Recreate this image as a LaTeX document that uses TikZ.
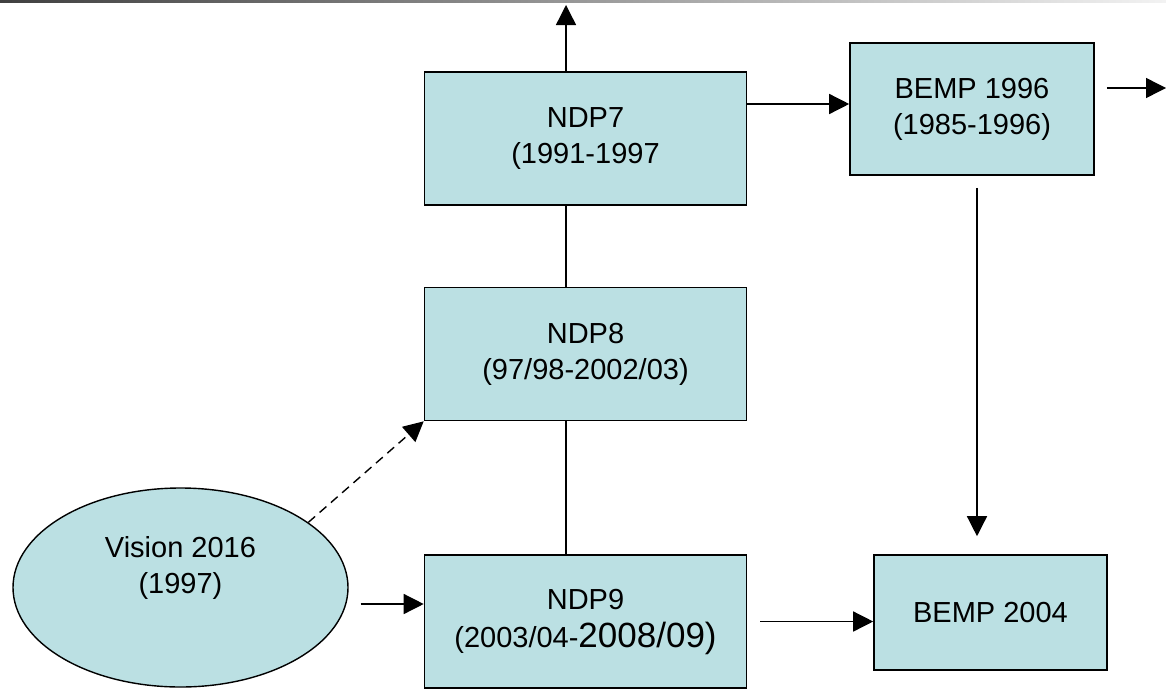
\documentclass[tikz,border=0pt]{standalone}
\usepackage{fontspec}
\setmainfont{Liberation Sans}
\usetikzlibrary{arrows.meta,shapes.geometric,calc}
\definecolor{planblue}{RGB}{187,224,227}

\begin{document}
\begin{tikzpicture}[
    x=1pt, y=-1pt,
    plan/.style={draw, line width=1.6pt, fill=planblue, minimum width=322pt,
    minimum height=133pt, align=center, inner sep=0pt},
    vision/.style={ellipse, draw, line width=1.4pt, fill=planblue,
    minimum width=335pt, minimum height=199pt, inner sep=0pt},
    pile/.style={line width=1.4pt, -{Triangle[length=20pt,width=20pt]}},
    dashed pile/.style={pile, dash pattern=on 9pt off 6pt},
    link/.style={line width=1.4pt},
    every node/.style={font=\fontsize{29}{36}\selectfont, color=black}
    ]

\useasboundingbox (0,0) rectangle (1166,688);

% top rule
\shade[left color=black!75, right color=black!5] (0,0) rectangle (1166,2);

% plans
\node[plan] (ndp7) at (585.5,138.5) {NDP7\\(1991-1997};
\node[plan] (ndp8) at (585.5,354) {NDP8\\(97/98-2002/03)};
\node[plan] (ndp9) at (585.5,621.5)
	{NDP9\\[2pt](2003/04-{\fontsize{35}{36}\selectfont 2008/09)}};
\node[plan, minimum width=244pt, minimum height=132pt] (bemp96) at (972,109)
	{BEMP 1996\\(1985-1996)};
\node[plan, minimum width=233pt, minimum height=115pt] (bemp04) at
(990.5,612.5) {BEMP 2004};

% vision
\node[vision] (vis) at (180.5,587.5) {};
\node[align=center] (vistext) at (180.5,568) {Vision 2016\\(1997)};

% connectors
\coordinate (spine) at (566,0);
\coordinate (top) at (566,5);
\coordinate (out96) at (1166,88);

\draw[pile] (ndp7.north -| spine) -- (top);
\draw[link] (ndp7.south -| spine) -- (ndp8.north -| spine);
\draw[link] (ndp8.south -| spine) -- (ndp9.north -| spine);
\draw[pile] ([yshift=5pt]bemp96.west -| ndp7.east) -- ([yshift=5pt]bemp96.west);
\draw[pile, shorten <=12pt] (bemp96.east |- out96) -- (out96);
\draw[pile, shorten <=12pt, shorten >=18pt] ([xshift=5pt]bemp96.south) --
([xshift=5pt]bemp96.south |- bemp04.north);
\draw[pile, shorten <=13pt] (ndp9.east) -- (ndp9.east -| bemp04.west);
\draw[pile, shorten <=12pt] ([yshift=-16.5pt]vis.east) --
([yshift=-16.5pt]vis.east -| ndp9.west);
\draw[dashed pile] (vis.27) -- (ndp8.south west);

\end{tikzpicture}
\end{document}
